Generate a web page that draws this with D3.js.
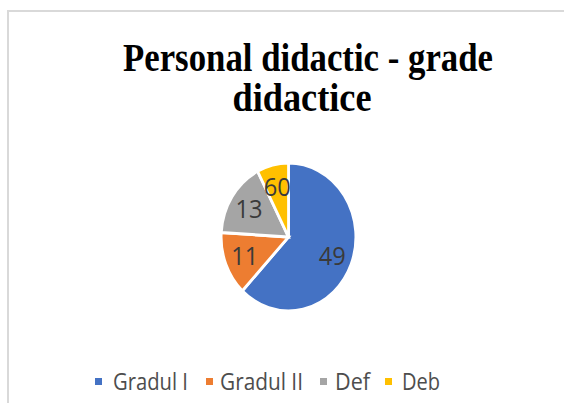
<!DOCTYPE html>
<html>
<head>
<meta charset="utf-8">
<script src="https://cdn.jsdelivr.net/npm/d3@7"></script>
<style>
  html, body { margin: 0; padding: 0; background: #fff; }
</style>
</head>
<body>
<div id="chart-area"></div>
<script>
const CATEGORIES = ['Gradul I', 'Gradul II', 'Def', 'Deb'];
const VALUES = [49, 11, 13, 6];
const LABELS = ['49', '11', '13', '60'];
const COLORS = ['#4472C4', '#ED7D31', '#A5A5A5', '#FFC000'];
const TITLE = ['Personal didactic - grade', 'didactice'];

const width = 564;
const height = 403;
const radius = 74;

const svg = d3.select('#chart-area')
  .append('svg')
  .attr('width', width)
  .attr('height', height);

// chart frame, only top and left edges are visible
svg.append('rect')
  .attr('x', 8)
  .attr('y', 11)
  .attr('width', width)
  .attr('height', height)
  .attr('fill', 'none')
  .attr('stroke', '#d9d9d9')
  .attr('stroke-width', 2);

// title
const titleLines = [
  { text: TITLE[0], x: 308, y: 71, len: 370 },
  { text: TITLE[1], x: 302, y: 111, len: 139 },
];
svg.selectAll('.title')
  .data(titleLines)
  .enter()
  .append('text')
  .attr('class', 'title')
  .attr('x', (d) => d.x)
  .attr('y', (d) => d.y)
  .attr('text-anchor', 'middle')
  .attr('textLength', (d) => d.len)
  .attr('lengthAdjust', 'spacingAndGlyphs')
  .style('font-family', '"Liberation Serif", "DejaVu Serif", serif')
  .style('font-weight', 'bold')
  .style('font-size', '39px')
  .attr('fill', '#000')
  .text((d) => d.text);

const color = d3.scaleOrdinal()
  .domain(CATEGORIES)
  .range(COLORS);

const pie = d3.pie()
  .sort(null)
  .value((d) => d.value);

const data = CATEGORIES.map((c, i) => ({ cat: c, value: VALUES[i], label: LABELS[i] }));
const arcs = pie(data);

const arc = d3.arc()
  .innerRadius(0)
  .outerRadius(radius);

const labelArc = d3.arc()
  .innerRadius(radius * 0.4)
  .outerRadius(radius);

// the original picture is a bit squeezed horizontally
const pieG = svg.append('g')
  .attr('transform', 'translate(288.5,237) scale(0.91,1)');

pieG.selectAll('path')
  .data(arcs)
  .enter()
  .append('path')
  .attr('d', arc)
  .attr('fill', (d) => color(d.data.cat))
  .attr('stroke', '#fff')
  .attr('stroke-width', 3)
  .attr('stroke-linejoin', 'miter');

pieG.selectAll('.label')
  .data(arcs)
  .enter()
  .append('text')
  .attr('class', 'label')
  .attr('transform', (d) => 'translate(' + labelArc.centroid(d) + ')')
  .attr('text-anchor', 'middle')
  .attr('dy', '0.36em')
  .style('font-family', '"Open Sans", "Noto Sans", sans-serif')
  .style('font-size', '26px')
  .attr('fill', '#3a3a3a')
  .text((d) => d.data.label);

// legend
const legendItems = [
  { x: 95, tx: 113, len: 75 },
  { x: 206, tx: 220, len: 83 },
  { x: 320, tx: 335, len: 35 },
  { x: 385, tx: 402, len: 38 },
];

const legend = svg.selectAll('.legend')
  .data(CATEGORIES)
  .enter()
  .append('g')
  .attr('class', 'legend');

legend.append('rect')
  .attr('x', (d, i) => legendItems[i].x)
  .attr('y', 378)
  .attr('width', 7)
  .attr('height', 7)
  .attr('fill', (d) => color(d));

legend.append('text')
  .attr('x', (d, i) => legendItems[i].tx)
  .attr('y', 390)
  .attr('textLength', (d, i) => legendItems[i].len)
  .attr('lengthAdjust', 'spacingAndGlyphs')
  .style('font-family', '"Open Sans", "Noto Sans", sans-serif')
  .style('font-size', '23px')
  .attr('fill', '#4d4d4d')
  .text((d) => d);
</script>
</body>
</html>
